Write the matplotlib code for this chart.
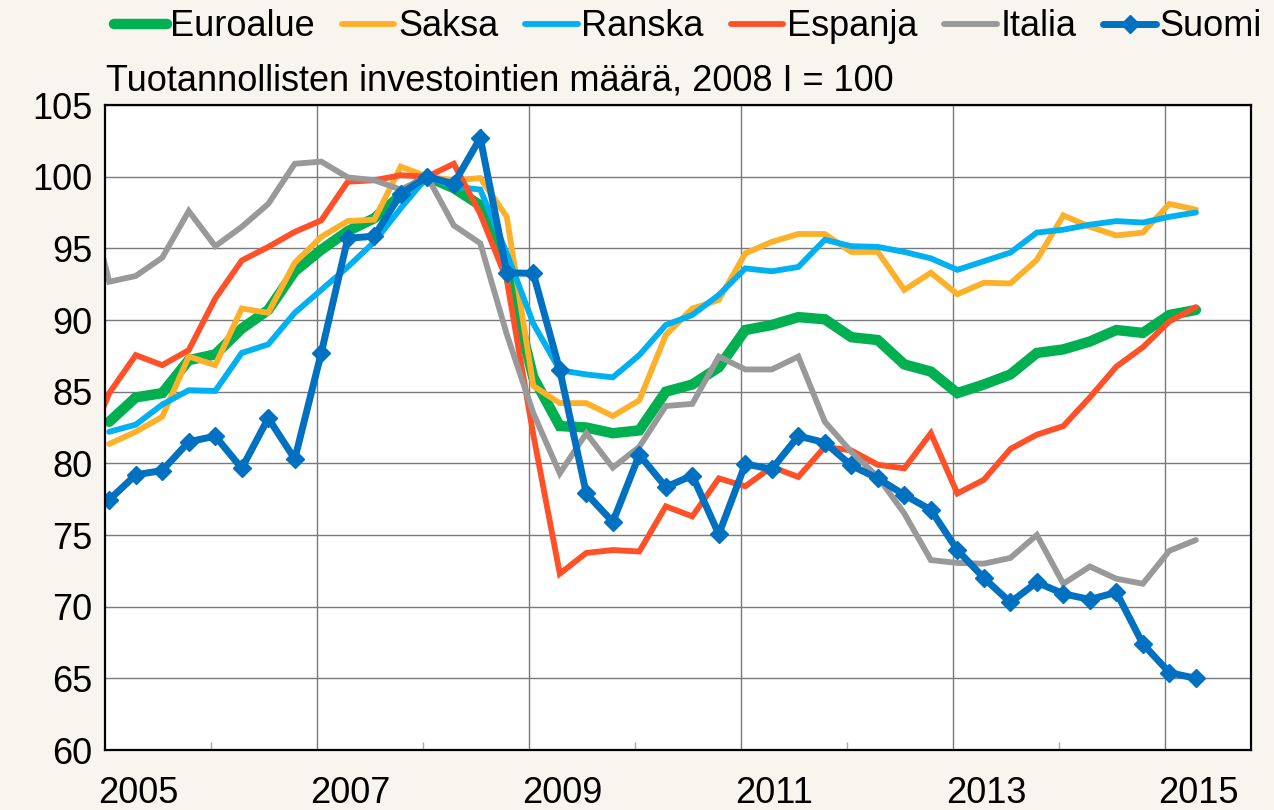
import numpy as np
import matplotlib
matplotlib.use("Agg")
import matplotlib.pyplot as plt

plt.rcParams['font.family'] = ['Liberation Sans', 'DejaVu Sans']

# neljännesvuodet 2004 IV ... 2015 II (2004 IV jää akselin ulkopuolelle)
quarters = ["2004 IV"] + [f"{y} {q}" for y in range(2005, 2016)
                          for q in ["I", "II", "III", "IV"]][:42]

euroalue = [np.nan, 82.9, 84.6, 84.9, 87.2, 87.6, 89.4, 90.7, 93.4, 94.9, 96.2, 97.1, 98.7,
            100.0, 99.2, 98.0, 93.5, 86.0, 82.6, 82.5, 82.1, 82.3, 85.0, 85.5, 86.7,
            89.3, 89.65, 90.2, 90.05, 88.8, 88.6, 86.9, 86.4, 84.9, 85.5, 86.2, 87.7,
            87.95, 88.5, 89.3, 89.1, 90.35, 90.7]
saksa = [np.nan, 81.35, 82.2, 83.25, 87.45, 86.85, 90.8, 90.5, 94.0, 95.8, 96.9, 97.0, 100.7,
         100.0, 99.75, 99.9, 97.2, 85.4, 84.2, 84.2, 83.3, 84.4, 88.95, 90.8, 91.4,
         94.65, 95.45, 96.0, 96.0, 94.75, 94.75, 92.1, 93.3, 91.8, 92.6, 92.55, 94.2,
         97.3, 96.5, 95.9, 96.1, 98.1, 97.7]
ranska = [np.nan, 82.2, 82.7, 84.1, 85.1, 85.05, 87.7, 88.3, 90.5, 92.1, 93.7, 95.45, 97.8,
          100.0, 99.3, 99.1, 94.65, 89.75, 86.5, 86.2, 86.0, 87.55, 89.65, 90.35, 91.75,
          93.6, 93.4, 93.7, 95.6, 95.15, 95.1, 94.75, 94.3, 93.5, 94.1, 94.7, 96.1,
          96.3, 96.65, 96.9, 96.8, 97.2, 97.5]
espanja = [80.5, 84.9, 87.55, 86.85, 87.9, 91.5, 94.15, 95.1, 96.15, 96.95, 99.65, 99.75, 100.1,
           100.0, 100.9, 97.4, 92.8, 82.0, 72.3, 73.75, 73.95, 73.85, 77.0, 76.3, 78.95,
           78.4, 79.75, 79.05, 81.15, 80.9, 79.9, 79.65, 82.1, 77.9, 78.85, 81.0, 82.0,
           82.6, 84.6, 86.75, 88.1, 89.9, 90.9]
italia = [100.0, 92.67, 93.07, 94.35, 97.6, 95.15, 96.5, 98.1, 100.9, 101.05, 99.95, 99.75, 99.1,
          100.0, 96.6, 95.35, 89.0, 83.5, 79.3, 82.1, 79.7, 81.15, 84.0, 84.15, 87.45,
          86.55, 86.55, 87.45, 82.9, 80.8, 79.05, 76.5, 73.25, 73.05, 73.0, 73.4, 75.0,
          71.6, 72.8, 71.95, 71.6, 73.9, 74.65]
suomi = [np.nan, 77.45, 79.2, 79.5, 81.5, 81.9, 79.65, 83.15, 80.3, 87.7, 95.7, 95.85, 98.8,
         100.0, 99.5, 102.7, 93.3, 93.25, 86.5, 77.9, 75.9, 80.6, 78.35, 79.15, 75.05,
         79.95, 79.6, 81.9, 81.45, 79.85, 78.95, 77.8, 76.75, 73.95, 72.0, 70.3, 71.7,
         70.9, 70.5, 71.0, 67.4, 65.4, 65.0]

# kvartaalin sijainti aika-akselilla
x = np.array([int(q[:4]) + ["I", "II", "III", "IV"].index(q[5:]) / 4 + 0.04
              for q in quarters])

bg = '#f8f4ee'
fig = plt.figure(figsize=(12.74, 8.10), dpi=100, facecolor=bg)
ax = fig.add_axes([105 / 1274, 60 / 810, 1146 / 1274, 645 / 810])
ax.set_facecolor('white')

fs = 26
kw = dict(solid_capstyle='round', solid_joinstyle='miter')
ax.plot(x, euroalue, color='#00b050', lw=7.5, label='Euroalue', **kw)
ax.plot(x, saksa, color='#fdb12b', lw=4.2, label='Saksa', **kw)
ax.plot(x, ranska, color='#00b0f0', lw=4.2, label='Ranska', **kw)
ax.plot(x, espanja, color='#ff5028', lw=4.2, label='Espanja', **kw)
ax.plot(x, italia, color='#999999', lw=4.2, label='Italia', **kw)
ax.plot(x, suomi, color='#0070c0', lw=5.0, marker='D', ms=9, label='Suomi', **kw)

ax.set_xlim(2005.0, 2015.81)
ax.set_ylim(60, 105)
ax.set_yticks(np.arange(60, 106, 5))
ax.set_xticks(range(2007, 2016, 2))
ax.set_xticks(range(2006, 2016, 2), minor=True)
ax.set_xticklabels([])
ax.grid(True, which='major', color='#7a7a7a', lw=1.0)
ax.set_axisbelow(True)

ax.tick_params(axis='y', length=0, pad=9, labelsize=fs)
ax.tick_params(axis='x', which='major', length=0)
ax.tick_params(axis='x', which='minor', direction='in', length=6, width=1, color='#aaaaaa')
for s in ax.spines.values():
    s.set_linewidth(1.6)
    s.set_color('black')

# vuosiluvut vuoden alun oikealle puolelle
for yr in range(2005, 2016, 2):
    ax.text(yr + 0.31, -0.04, str(yr), transform=ax.get_xaxis_transform(),
            ha='center', va='top', fontsize=fs)

fig.text(106 / 1274, 1 - 81 / 810, 'Tuotannollisten investointien määrä, 2008 I = 100',
         fontsize=fs, va='center', ha='left')

leg = fig.legend(loc='center', bbox_to_anchor=(0.54, 1 - 27 / 810), ncol=6, frameon=False,
                 fontsize=fs, handlelength=1.45, handletextpad=0.1, columnspacing=0.75,
                 numpoints=1, borderaxespad=0)

fig.savefig('out.png', dpi=100, facecolor=bg)
